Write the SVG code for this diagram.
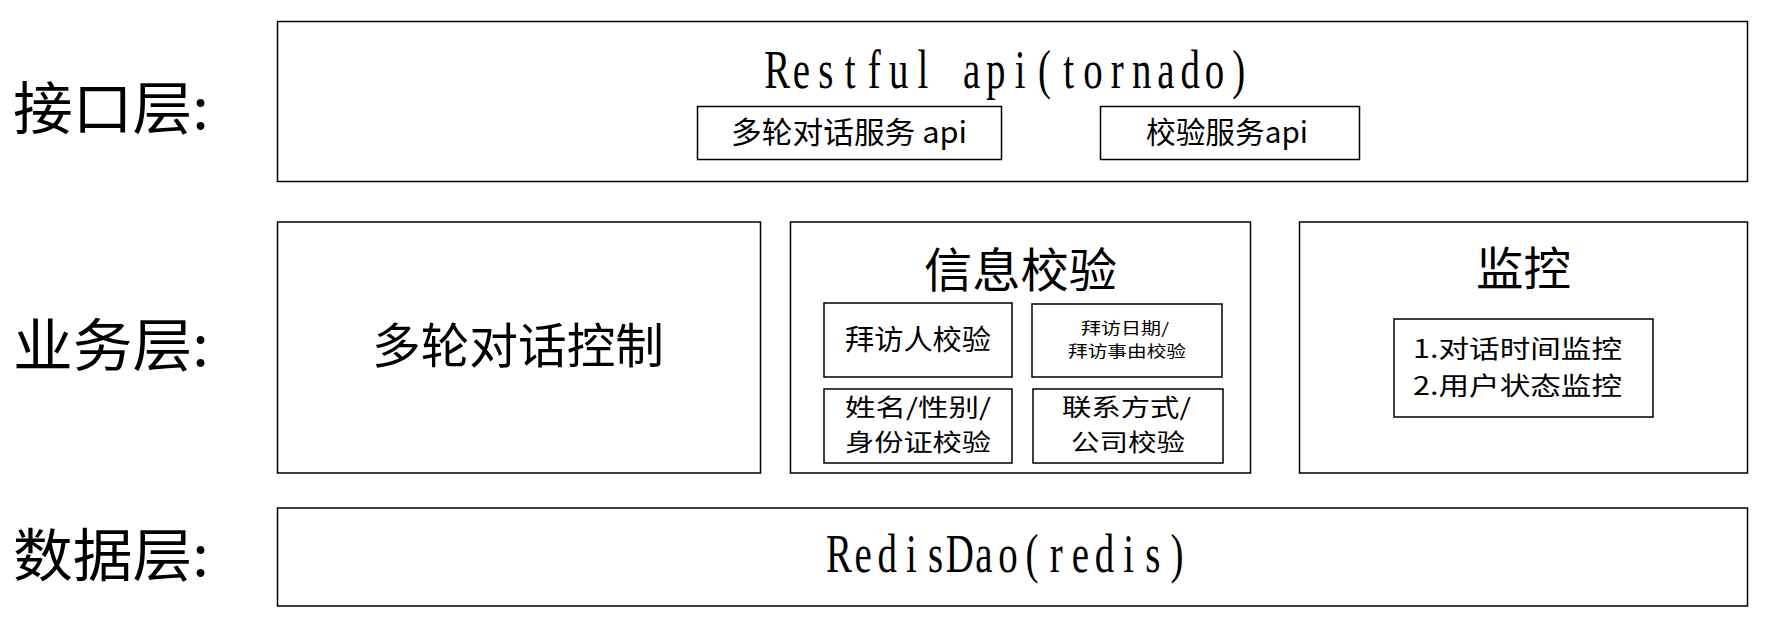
<svg xmlns="http://www.w3.org/2000/svg" width="1771" height="628" viewBox="0 0 1771 628">
<style>
rect{fill:#fff;stroke:#000;stroke-width:1.5}
text{fill:#000;font-family:"Noto Sans CJK SC","Liberation Sans",sans-serif}
.lat{font-family:"Liberation Serif","Noto Sans CJK SC",serif;font-size:54px;text-anchor:middle}
</style>
<rect x="0" y="0" width="1771" height="628" style="stroke:none"/>
<g id="labels">
<text x="13" y="128.5" font-size="57" textLength="196" lengthAdjust="spacingAndGlyphs">接口层:</text>
<text x="13" y="365.5" font-size="57" textLength="196" lengthAdjust="spacingAndGlyphs">业务层:</text>
<text x="13" y="575.5" font-size="57" textLength="196" lengthAdjust="spacingAndGlyphs">数据层:</text>
</g>
<g id="api-layer">
<rect x="277.5" y="21.5" width="1470" height="160"/>
<g transform="translate(765 0) scale(0.72 1)">
<text class="lat" y="88" x="16.875 50.625 84.375 118.125 151.875 185.625 219.375 253.125 286.875 320.625 354.375 388.125 421.875 455.625 489.375 523.125 556.875 590.625 624.375 658.125">Restful api(tornado)</text>
</g>
</g>
<g id="dialog-api">
<rect x="697.5" y="106.5" width="304" height="53"/>
<text x="731" y="142.6" font-size="30" textLength="236" lengthAdjust="spacingAndGlyphs">多轮对话服务 api</text>
</g>
<g id="check-api">
<rect x="1100.5" y="106.5" width="259" height="53"/>
<text x="1146" y="142.6" font-size="30" textLength="162" lengthAdjust="spacingAndGlyphs">校验服务api</text>
</g>
<g id="dialog-control">
<rect x="277.5" y="222" width="483" height="251"/>
<text x="372" y="363" font-size="48" textLength="292" lengthAdjust="spacingAndGlyphs">多轮对话控制</text>
</g>
<g id="info-check">
<rect x="790.5" y="222" width="460" height="251"/>
<text x="924" y="286.5" font-size="47" textLength="193" lengthAdjust="spacingAndGlyphs">信息校验</text>
</g>
<g id="visitor-check">
<rect x="824" y="303" width="188" height="74"/>
<text x="845" y="350" font-size="28" textLength="146" lengthAdjust="spacingAndGlyphs">拜访人校验</text>
</g>
<g id="date-check">
<rect x="1032" y="304" width="190" height="73"/>
<text x="1081" y="333.5" font-size="15.5" textLength="88" lengthAdjust="spacingAndGlyphs">拜访日期/</text>
<text x="1068" y="356.7" font-size="15.5" textLength="118" lengthAdjust="spacingAndGlyphs">拜访事由校验</text>
</g>
<g id="id-check">
<rect x="824" y="389" width="188" height="74"/>
<text x="845" y="415.5" font-size="24" textLength="146" lengthAdjust="spacingAndGlyphs">姓名/性别/</text>
<text x="845" y="451" font-size="24" textLength="146" lengthAdjust="spacingAndGlyphs">身份证校验</text>
</g>
<g id="contact-check">
<rect x="1033" y="389" width="190" height="74"/>
<text x="1062" y="415.5" font-size="24" textLength="129" lengthAdjust="spacingAndGlyphs">联系方式/</text>
<text x="1071" y="451" font-size="24" textLength="114" lengthAdjust="spacingAndGlyphs">公司校验</text>
</g>
<g id="monitor">
<rect x="1299.5" y="222" width="448" height="251"/>
<text x="1476" y="284.5" font-size="46" textLength="95" lengthAdjust="spacingAndGlyphs">监控</text>
</g>
<g id="monitor-items">
<rect x="1394" y="319" width="259" height="98"/>
<text x="1413" y="358" font-size="25" textLength="209" lengthAdjust="spacingAndGlyphs">1.对话时间监控</text>
<text x="1413" y="395" font-size="25" textLength="209" lengthAdjust="spacingAndGlyphs">2.用户状态监控</text>
</g>
<g id="data-layer">
<rect x="277.5" y="508" width="1470" height="98"/>
<g transform="translate(827 0) scale(0.72 1)">
<text class="lat" y="572" x="16.76 50.27 83.78 117.3 150.81 184.32 217.84 251.35 284.86 318.38 351.89 385.4 418.92 452.43 485.94">RedisDao(redis)</text>
</g>
</g>
</svg>
